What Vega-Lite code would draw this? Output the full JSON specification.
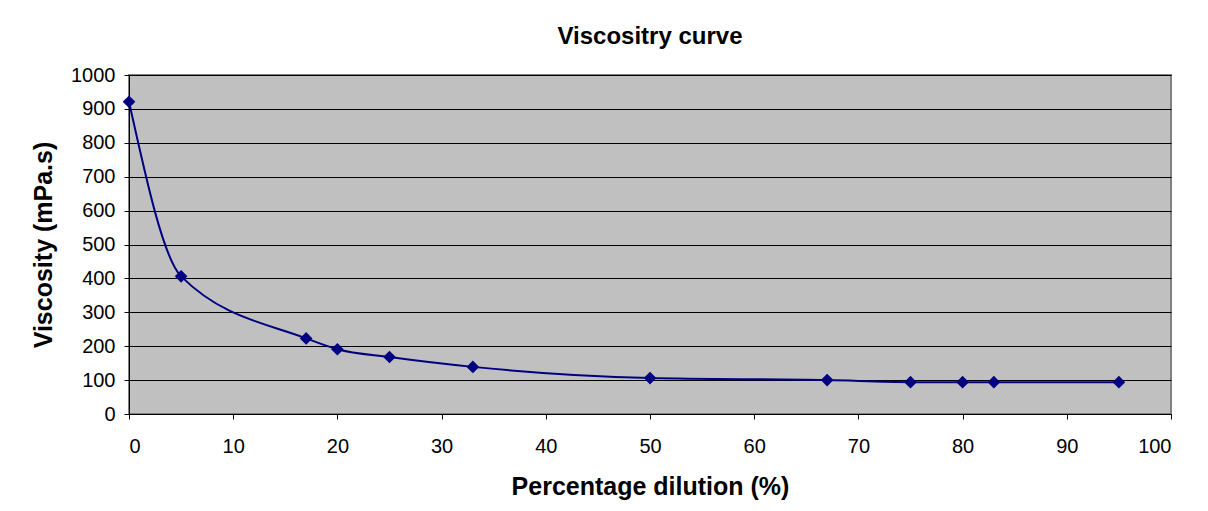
{
  "$schema": "https://vega.github.io/schema/vega-lite/v6.json",
  "width": 1042,
  "height": 339,
  "autosize": {"type": "none"},
  "padding": {"left": 129, "top": 75, "right": 37, "bottom": 97},
  "background": "white",
  "title": {
    "text": "Viscositry curve",
    "font": "Liberation Sans",
    "fontSize": 24,
    "fontWeight": "bold",
    "color": "black",
    "baseline": "alphabetic",
    "offset": -3,
    "anchor": "middle"
  },
  "data": {
    "values": [
      {"dilution": 0, "viscosity": 921},
      {"dilution": 5, "viscosity": 406},
      {"dilution": 17, "viscosity": 223},
      {"dilution": 20, "viscosity": 191},
      {"dilution": 25, "viscosity": 168},
      {"dilution": 33, "viscosity": 139},
      {"dilution": 50, "viscosity": 106},
      {"dilution": 67, "viscosity": 100},
      {"dilution": 75, "viscosity": 94},
      {"dilution": 80, "viscosity": 94},
      {"dilution": 83, "viscosity": 94},
      {"dilution": 95, "viscosity": 94}
    ]
  },
  "encoding": {
    "x": {
      "field": "dilution",
      "type": "quantitative",
      "scale": {"domain": [0, 100], "nice": false},
      "axis": {
        "title": "Percentage dilution (%)",
        "values": [0, 10, 20, 30, 40, 50, 60, 70, 80, 90, 100],
        "format": "d",
        "grid": false,
        "domainColor": "black",
        "tickColor": "black",
        "tickSize": 5,
        "labelPadding": 17,
        "labelFont": "Liberation Sans",
        "labelFontSize": 20,
        "labelColor": "black",
        "labelOverlap": false,
        "titleFont": "Liberation Sans",
        "titleFontSize": 25,
        "titleFontWeight": "bold",
        "titleColor": "black",
        "titlePadding": 18
      }
    },
    "y": {
      "field": "viscosity",
      "type": "quantitative",
      "scale": {"domain": [0, 1000], "nice": false},
      "axis": {
        "title": "Viscosity (mPa.s)",
        "values": [0, 100, 200, 300, 400, 500, 600, 700, 800, 900, 1000],
        "format": "d",
        "grid": true,
        "gridColor": "black",
        "gridOpacity": 1,
        "gridWidth": 1,
        "domainColor": "black",
        "tickColor": "black",
        "tickSize": 5,
        "labelPadding": 9,
        "labelFont": "Liberation Sans",
        "labelFontSize": 20,
        "labelColor": "black",
        "labelOverlap": false,
        "titleFont": "Liberation Sans",
        "titleFontSize": 25,
        "titleFontWeight": "bold",
        "titleColor": "black",
        "titlePadding": 14
      }
    }
  },
  "layer": [
    {
      "mark": {"type": "line", "color": "#000080", "strokeWidth": 2, "interpolate": "monotone"}
    },
    {
      "mark": {"type": "point", "shape": "diamond", "filled": true, "color": "#000080", "size": 160, "opacity": 1}
    }
  ],
  "config": {
    "view": {"fill": "#C0C0C0", "stroke": "#808080", "strokeWidth": 2}
  }
}
